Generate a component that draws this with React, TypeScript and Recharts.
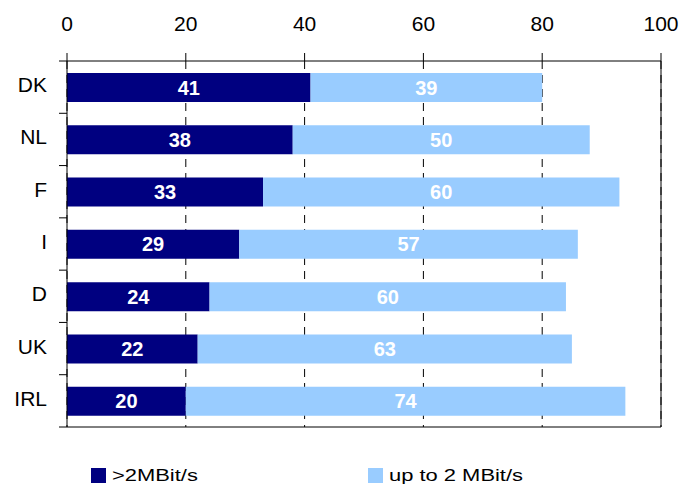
import React from "react";
import {
  Bar,
  BarChart,
  CartesianGrid,
  LabelList,
  Legend,
  ReferenceLine,
  XAxis,
  YAxis,
} from "recharts";

const countries = ["DK", "NL", "F", "I", "D", "UK", "IRL"];
const above2 = [41, 38, 33, 29, 24, 22, 20];
const upTo2 = [39, 50, 60, 57, 60, 63, 74];
const xTicks = [0, 20, 40, 60, 80, 100];

const data = countries.map((name, i) => ({
  name,
  fast: above2[i],
  slow: upTo2[i],
}));

const FONT = "'Liberation Sans', Arial, sans-serif";

// Excel-style category ticks: marks sit between the bars, not at their centres
const CategoryTick = (props: any) => {
  const { x, y, payload, index } = props;
  const off = payload?.offset ?? 0;
  const last = index === countries.length - 1;
  return (
    <g>
      <line x1={x - 8} x2={x} y1={y - off} y2={y - off} stroke="#000" />
      {last && <line x1={x - 8} x2={x} y1={y + off} y2={y + off} stroke="#000" />}
      <text
        x={x - 20}
        y={y + 5}
        textAnchor="end"
        fontSize={21}
        fontFamily={FONT}
        fill="#000"
      >
        {payload.value}
      </text>
    </g>
  );
};

const renderLegend = (props: any) => {
  const { payload } = props;
  const lefts = [91, 368];
  return (
    <div style={{ position: "relative", height: 56 }}>
      {(payload || []).map((entry: any, i: number) => (
        <div
          key={entry.value}
          style={{
            position: "absolute",
            left: lefts[i],
            top: 40,
            height: 15,
            display: "flex",
            alignItems: "center",
          }}
        >
          <span
            style={{
              width: 15,
              height: 15,
              background: entry.color,
              display: "inline-block",
            }}
          />
          <span
            style={{
              marginLeft: 6,
              fontSize: 16,
              lineHeight: "15px",
              fontFamily: FONT,
              color: "#000",
              whiteSpace: "nowrap",
              display: "inline-block",
              transform: "scaleX(1.37)",
              transformOrigin: "left center",
            }}
          >
            {entry.value}
          </span>
        </div>
      ))}
    </div>
  );
};

const App = () => {
  return (
    <div style={{ position: "absolute", left: 0, top: 0 }}>
      <BarChart
        width={685}
        height={484}
        data={data}
        layout="vertical"
        margin={{ top: 0, right: 24, bottom: 0, left: 0 }}
      >
        <CartesianGrid
          xAxisId="top"
          horizontal={false}
          stroke="#000"
          strokeDasharray="8 6"
        />
        <XAxis
          xAxisId="top"
          type="number"
          orientation="top"
          domain={[0, 100]}
          ticks={xTicks}
          interval={0}
          height={61}
          tickSize={8}
          tickMargin={22}
          axisLine={{ stroke: "#000" }}
          tickLine={{ stroke: "#000" }}
          tick={{ fill: "#000", fontSize: 21, fontFamily: FONT }}
        />
        <XAxis
          xAxisId="bottom"
          type="number"
          orientation="bottom"
          domain={[0, 100]}
          height={1}
          tick={false}
          tickLine={false}
          axisLine={{ stroke: "#000" }}
        />
        <YAxis
          type="category"
          dataKey="name"
          width={67}
          interval={0}
          tickSize={0}
          tickMargin={0}
          tickLine={false}
          axisLine={{ stroke: "#000" }}
          tick={<CategoryTick />}
        />
        <ReferenceLine xAxisId="top" x={100} stroke="#000" />
        <Bar
          xAxisId="top"
          dataKey="fast"
          name=">2MBit/s"
          stackId="a"
          fill="#000080"
          barSize={29}
          isAnimationActive={false}
        >
          <LabelList
            dataKey="fast"
            position="center"
            fill="#fff"
            fontSize={20}
            fontWeight="bold"
            fontFamily={FONT}
          />
        </Bar>
        <Bar
          xAxisId="top"
          dataKey="slow"
          name="up to 2 MBit/s"
          stackId="a"
          fill="#99CCFF"
          barSize={29}
          isAnimationActive={false}
        >
          <LabelList
            dataKey="slow"
            position="center"
            fill="#fff"
            fontSize={20}
            fontWeight="bold"
            fontFamily={FONT}
          />
        </Bar>
        <Legend verticalAlign="bottom" content={renderLegend} />
      </BarChart>
    </div>
  );
};

export default App;
